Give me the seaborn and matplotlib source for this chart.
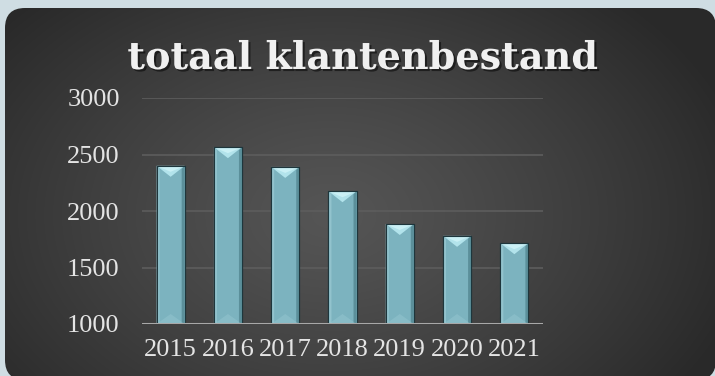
import numpy as np
import pandas as pd
import matplotlib
matplotlib.use("Agg")
import matplotlib.pyplot as plt
import matplotlib.patheffects as pe
from matplotlib.patches import FancyBboxPatch, Polygon
import seaborn as sns

# Customer base per year
jaren = ["2015", "2016", "2017", "2018", "2019", "2020", "2021"]
klanten = [2400, 2565, 2390, 2175, 1885, 1780, 1715]
y_ticks = [1000, 1500, 2000, 2500, 3000]
titel = "totaal klantenbestand"

df = pd.DataFrame({"jaar": jaren, "klanten": klanten})

sns.set_theme(style="white")
plt.rcParams["font.family"] = ["Liberation Serif", "DejaVu Serif"]

W, H = 715, 376
fig = plt.figure(figsize=(W / 100, H / 100), dpi=100, facecolor="#cfdde3")

# Background panel: dark rounded card with a soft radial glow
bg = fig.add_axes([0, 0, 1, 1])
bg.set_xlim(0, W)
bg.set_ylim(H, 0)
bg.axis("off")
yy, xx = np.mgrid[0:H, 0:W]
r = np.sqrt(((xx - 330) / 430.0) ** 2 + ((yy - 215) / 300.0) ** 2)
r = np.clip(r, 0, 1) ** 1.2
c_in = np.array([0x55, 0x55, 0x55]) / 255
c_out = np.array([0x29, 0x29, 0x29]) / 255
img = c_in[None, None, :] * (1 - r[..., None]) + c_out[None, None, :] * r[..., None]
card = FancyBboxPatch((5, 8), 711, 372, boxstyle="round,pad=0,rounding_size=20",
                      facecolor="none", edgecolor="none")
bg.add_patch(card)
im = bg.imshow(img, extent=(0, W, H, 0), interpolation="bilinear", zorder=0)
im.set_clip_path(card)

# Chart area
left, right, top, base = 142, 543, 98, 324
ax = fig.add_axes([left / W, (H - base) / H, (right - left) / W, (base - top) / H])
ax.set_facecolor("none")
sns.barplot(data=df, x="jaar", y="klanten", color="#7cb3bf", saturation=1,
            width=0.49, ax=ax, zorder=3)
ax.set_ylim(1000, 3000)
ax.set_xlim(-0.5, len(jaren) - 0.5)
ax.set_yticks(y_ticks)
ax.set_xlabel("")
ax.set_ylabel("")
for s in ax.spines.values():
    s.set_visible(False)
for t in y_ticks[1:]:
    ax.axhline(t, color="#5d5d5d", lw=1.2, zorder=1)
ax.axhline(1000, color="#a8a8a8", lw=2.2, zorder=5)
ax.tick_params(axis="both", length=0, labelsize=19, labelcolor="#e4e4e4")
ax.tick_params(axis="y", pad=16)
ax.tick_params(axis="x", pad=11)

# Bevelled look on each bar
px_x = (ax.get_xlim()[1] - ax.get_xlim()[0]) / (right - left)
px_y = (ax.get_ylim()[1] - ax.get_ylim()[0]) / (base - top)
ybase = ax.get_ylim()[0]
for p in ax.patches:
    x0 = p.get_x()
    w = p.get_width()
    x1 = x0 + w
    xc = x0 + w / 2
    h = p.get_y() + p.get_height()
    p.set_edgecolor("#1e363c")
    p.set_linewidth(0.8)
    side = 3 * px_x
    # left light strip and right shaded strip
    ax.add_patch(Polygon([(x0, ybase), (x0 + side, ybase), (x0 + side, h - 3 * px_y), (x0, h)],
                         closed=True, facecolor="#92c3cd", edgecolor="none", zorder=4))
    ax.add_patch(Polygon([(x1, ybase), (x1 - side, ybase), (x1 - side, h - 3 * px_y), (x1, h)],
                         closed=True, facecolor="#5b8f9a", edgecolor="none", zorder=4))
    # top chevron highlight
    ax.add_patch(Polygon([(x0, h), (x1, h), (xc, h - 11 * px_y)],
                         closed=True, facecolor="#b2e3eb", edgecolor="none", zorder=4))
    ax.add_patch(Polygon([(x0 + 2 * px_x, h - 1 * px_y), (x1 - 2 * px_x, h - 1 * px_y), (xc, h - 6 * px_y)],
                         closed=True, facecolor="#caf0f5", edgecolor="none", zorder=4))
    # faint bottom glow
    ax.add_patch(Polygon([(x0, ybase), (x1, ybase), (xc, ybase + 10 * px_y)],
                         closed=True, facecolor="#9fcfd8", alpha=0.35, edgecolor="none", zorder=4))
    ax.plot([x0, x0, x1, x1], [ybase, h, h, ybase], color="#1e363c", lw=0.8, zorder=4.5)

fig.text(363 / W, (H - 69) / H, titel, ha="center", va="baseline",
         fontsize=27.5, fontweight="bold", color="#f0f0f0", family=["DejaVu Serif"],
         path_effects=[pe.withSimplePatchShadow(offset=(1.5, -1.5), shadow_rgbFace="black", alpha=0.5)])

fig.savefig("out.png", dpi=100, facecolor=fig.get_facecolor())
